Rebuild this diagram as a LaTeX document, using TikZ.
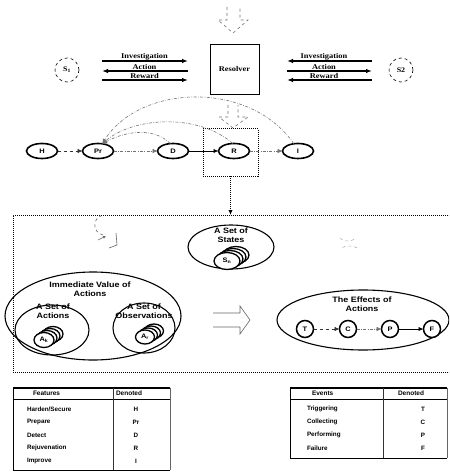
\documentclass[tikz,border=0pt]{standalone}
\usepackage{fontspec}
\setmainfont{Liberation Serif}
\newfontfamily\labsans[FakeStretch=1.15]{Liberation Sans}
\newfontfamily\tabsans{Liberation Sans}
\newfontfamily\labserif[FakeStretch=1.15]{Liberation Serif}
\usetikzlibrary{shapes.geometric,arrows.meta}
\tikzset{
  every node/.style={inner sep=0pt, outer sep=0pt},
  serlab/.style={font=\labserif\bfseries\fontsize{7.3}{8}\selectfont},
  sanslab/.style={font=\labsans\bfseries\fontsize{7.8}{8.6}\selectfont, align=center},
  tablab/.style={font=\tabsans\bfseries\fontsize{6.3}{7}\selectfont, anchor=west},
  tabhead/.style={font=\tabsans\bfseries\fontsize{6.5}{7}\selectfont, anchor=west},
  bigarrow/.style={line width=1.5pt, -{Latex[length=6pt,width=4.5pt]}},
  endtip/.style={-{Latex[length=5pt,width=4.5pt]}},
  faintline/.style={draw=black!55, line width=0.6pt, dash pattern=on 3pt off 1.5pt on 0.6pt off 1.5pt},
  darkdash/.style={draw=black!80, line width=0.7pt, dash pattern=on 3pt off 3pt},
  rownode/.style={ellipse, draw, line width=1.6pt, fill=white, minimum width=31pt, minimum height=15pt, font=\labsans\bfseries\fontsize{6.5}{6.5}\selectfont},
  evnode/.style={circle, draw, line width=1.5pt, fill=white, minimum size=17pt, font=\labsans\bfseries\fontsize{6.5}{6.5}\selectfont},
  stackc/.style={ellipse, draw, line width=1.3pt, fill=white, font=\labsans\bfseries\fontsize{6.5}{6.5}\selectfont},
  contell/.style={ellipse, draw, line width=1.1pt},
  dotbox/.style={draw, densely dotted, line width=1pt},
  hollow/.style={draw=black!55, line width=0.6pt, dashed},
  srcc/.style={circle, draw, dashed, line width=0.6pt, minimum size=24pt, font=\labserif\bfseries\fontsize{7}{7}\selectfont},
}
\begin{document}
\begin{tikzpicture}[x=1pt, y=-1pt]
\useasboundingbox (0,0) rectangle (449,473);
\clip (0,0) rectangle (449,473);

% top hollow arrow
\draw[hollow] (227,7) -- (227,20) -- (218,20) -- (233,33) -- (248,20) -- (240,20) -- (240,7);

% resolver and sources
\node[draw, line width=0.9pt, minimum width=49pt, minimum height=50pt, font=\labserif\bfseries\fontsize{7.3}{8}\selectfont] (res) at (234.5,69) {Resolver};
\node[srcc] (s1) at (67,70) {S\textsubscript{1}};
\node[srcc] (s2) at (401,70) {S2};

\draw[bigarrow, shorten <=23pt, shorten >=22pt] (s1.east |- 0,61) -- node[serlab, above=1pt] {Investigation} (res.west |- 0,61);
\draw[bigarrow, shorten <=22pt, shorten >=23pt] (res.west |- 0,71) -- node[serlab, above=1pt] {Action} (s1.east |- 0,71);
\draw[bigarrow, shorten <=23pt, shorten >=22pt] (s1.east |- 0,80) -- node[serlab, above=1pt] {Reward} (res.west |- 0,80);

\draw[bigarrow, shorten <=17pt, shorten >=28pt] (s2.west |- 0,61) -- node[serlab, above=1pt] {Investigation} (res.east |- 0,61);
\draw[bigarrow, shorten <=28pt, shorten >=17pt] (res.east |- 0,71) -- node[serlab, above=1pt] {Action} (s2.west |- 0,71);
\draw[bigarrow, shorten <=17pt, shorten >=28pt] (s2.west |- 0,80) -- node[serlab, above=1pt] {Reward} (res.east |- 0,80);

% second hollow arrow
\draw[hollow] (228,105) -- (228,117) -- (219,117) -- (233,128) -- (248,117) -- (238,117) -- (238,105);

% dotted box around R
\node[dotbox, minimum width=55pt, minimum height=47pt] (rbox) at (230.5,152.5) {};

% row of features
\node[rownode] (H) at (42,151) {H};
\node[rownode] (Pr) at (98,151) {Pr};
\node[rownode] (D) at (173,151) {D};
\node[rownode] (R) at (234,151) {R};
\node[rownode] (I) at (298,151) {I};

\draw[darkdash, endtip] (H) -- (Pr);
\draw[faintline, endtip] (Pr) -- (D);
\draw[line width=0.9pt, endtip] (D) -- (R);
\draw[faintline, endtip] (R) -- (I);

\draw[faintline, endtip] (I.120) .. controls (250,80) and (140,84) .. (Pr.60);
\draw[faintline, endtip] (R.100) .. controls (200,114) and (135,116) .. (Pr.60);
\draw[faintline, endtip] (D.110) .. controls (155,128) and (128,130) .. (Pr.60);

% big dotted container
\node[dotbox, minimum width=439pt, minimum height=157pt] (big) at (232.5,293.5) {};
\draw[dotbox, endtip] (rbox.south) -- (rbox.south |- big.north);

% cycle symbols
\draw[draw=black!60, line width=0.6pt, dashed] (103,235) arc[start angle=100, end angle=250, x radius=10, y radius=10];
\draw[draw=black!60, line width=0.6pt, -{Latex[length=3pt,width=3pt]}] (98,240) -- (106,236);
\draw[draw=black!60, line width=0.6pt] (116,233) -- (117,245) -- (109,248);
\draw[draw=black!35, line width=0.5pt, dashed] (340,238) arc[start angle=150, end angle=30, x radius=9, y radius=6];
\draw[draw=black!35, line width=0.5pt, dashed] (357,248) arc[start angle=-30, end angle=-150, x radius=9, y radius=4];

% set of states
\node[contell, minimum width=86pt, minimum height=44pt] (states) at (231,247) {};
\node[sanslab] (statesl) at (231,235) {A Set of\\States};
\node[stackc, minimum width=26pt, minimum height=17pt] (sn3) at (236,255) {};
\node[stackc, minimum width=26pt, minimum height=17pt] (sn2) at (233,257) {};
\node[stackc, minimum width=26pt, minimum height=17pt] (sn1) at (230,259) {};
\node[stackc, minimum width=26pt, minimum height=17pt] (sn) at (227,261) {S\textsubscript{n}};

% immediate value of actions
\node[contell, minimum width=176pt, minimum height=88pt] (imm) at (93,316) {};
\node[sanslab] (imml) at (90,289) {Immediate Value of\\Actions};
\node[contell, minimum width=74pt, minimum height=50pt] (acts) at (52,330) {};
\node[sanslab] (actsl) at (53,311) {A Set of\\Actions};
\node[contell, minimum width=62pt, minimum height=50pt] (obs) at (144,328) {};
\node[sanslab] (obsl) at (144,311) {A Set of\\Observations};

\node[stackc, minimum width=20pt, minimum height=15pt] (ak3) at (53,334) {};
\node[stackc, minimum width=20pt, minimum height=15pt] (ak2) at (50,336) {};
\node[stackc, minimum width=20pt, minimum height=15pt] (ak1) at (47,338) {};
\node[stackc, minimum width=20pt, minimum height=15pt] (ak) at (44,340) {A\textsubscript{k}};
\node[stackc, minimum width=19pt, minimum height=14pt] (ar3) at (154,331) {};
\node[stackc, minimum width=19pt, minimum height=14pt] (ar2) at (151,333) {};
\node[stackc, minimum width=19pt, minimum height=14pt] (ar1) at (148,335) {};
\node[stackc, minimum width=19pt, minimum height=14pt] (ar) at (145,337) {A\textsubscript{r}};

% hollow right arrow
\draw[draw=black!60, line width=0.6pt] (213,313) -- (240,313) -- (240,306) -- (250,320) -- (240,334) -- (240,327) -- (213,327);

% effects of actions
\node[contell, minimum width=172pt, minimum height=60pt] (eff) at (363,320) {};
\node[sanslab] (effl) at (362,304) {The Effects of\\Actions};
\node[evnode] (T) at (305,329) {T};
\node[evnode] (C) at (348,329) {C};
\node[evnode] (P) at (390,329) {P};
\node[evnode] (F) at (432,329) {F};
\draw[darkdash, endtip] (T) -- (C);
\draw[faintline, endtip] (C) -- (P);
\draw[line width=0.9pt, endtip] (P) -- (F);

% left table
\draw[line width=1.3pt] (13,388) -- (170,388);
\draw[line width=0.9pt] (13,388) -- (13,470) -- (170,470);
\draw[line width=0.5pt, draw=black!60] (170,388) -- (170,470);
\draw[line width=0.6pt] (13,399) -- (170,399);
\draw[line width=0.6pt, draw=black!80] (113,388) -- (113,470);
\node[tabhead] (fh) at (33,393.5) {Features};
\node[tabhead] (dh) at (116,393.5) {Denoted};
\node[tablab] (f1) at (27,409) {Harden/Secure};
\node[tablab] (f2) at (27,422) {Prepare};
\node[tablab] (f3) at (27,435) {Detect};
\node[tablab] (f4) at (27,448) {Rejuvenation};
\node[tablab] (f5) at (27,461) {Improve};
\node[tablab, anchor=center] (d1) at (136,409) {H};
\node[tablab, anchor=center] (d2) at (136,422) {Pr};
\node[tablab, anchor=center] (d3) at (136,435) {D};
\node[tablab, anchor=center] (d4) at (136,448) {R};
\node[tablab, anchor=center] (d5) at (136,461) {I};

% right table
\draw[line width=1.3pt] (290,388) -- (447,388);
\draw[line width=0.9pt] (290,388) -- (290,458) -- (447,458);
\draw[line width=0.5pt, draw=black!60] (447,388) -- (447,458);
\draw[line width=0.6pt] (290,399) -- (447,399);
\draw[line width=0.6pt, draw=black!80] (383,388) -- (383,458);
\node[tabhead] (eh) at (312,393.5) {Events};
\node[tabhead] (edh) at (398,393.5) {Denoted};
\node[tablab] (e1) at (307,409) {Triggering};
\node[tablab] (e2) at (307,422) {Collecting};
\node[tablab] (e3) at (307,435) {Performing};
\node[tablab] (e4) at (307,448) {Failure};
\node[tablab, anchor=center] (g1) at (423,409) {T};
\node[tablab, anchor=center] (g2) at (423,422) {C};
\node[tablab, anchor=center] (g3) at (423,435) {P};
\node[tablab, anchor=center] (g4) at (423,448) {F};
\end{tikzpicture}
\end{document}
